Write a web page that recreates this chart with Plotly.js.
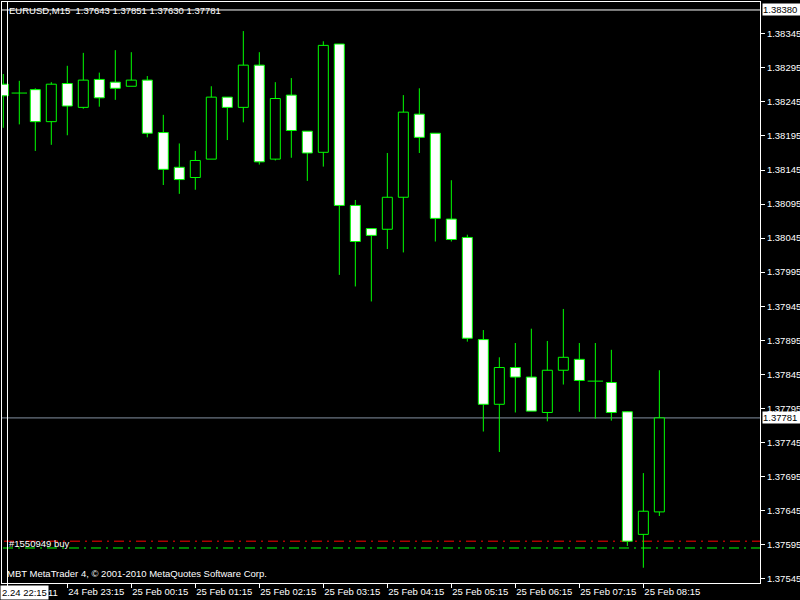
<!DOCTYPE html>
<html>
<head>
<meta charset="utf-8">
<script src="https://cdn.plot.ly/plotly-3.0.1.min.js"></script>
<style>
  html, body { margin: 0; padding: 0; background: #000; }
  #chart { width: 800px; height: 600px; }
</style>
</head>
<body>
<div id="chart"></div>
<script>
// ---- data (EURUSD, M15) ----
const times = [
  "24 Feb 22:15","24 Feb 22:30","24 Feb 22:45","24 Feb 23:00","24 Feb 23:15","24 Feb 23:30","24 Feb 23:45",
  "25 Feb 00:00","25 Feb 00:15","25 Feb 00:30","25 Feb 00:45","25 Feb 01:00","25 Feb 01:15","25 Feb 01:30",
  "25 Feb 01:45","25 Feb 02:00","25 Feb 02:15","25 Feb 02:30","25 Feb 02:45","25 Feb 03:00","25 Feb 03:15",
  "25 Feb 03:30","25 Feb 03:45","25 Feb 04:00","25 Feb 04:15","25 Feb 04:30","25 Feb 04:45","25 Feb 05:00",
  "25 Feb 05:15","25 Feb 05:30","25 Feb 05:45","25 Feb 06:00","25 Feb 06:15","25 Feb 06:30","25 Feb 06:45",
  "25 Feb 07:00","25 Feb 07:15","25 Feb 07:30","25 Feb 07:45","25 Feb 08:00","25 Feb 08:15","25 Feb 08:30"
];
const opens = [
  1.38271,1.38258,1.38263,1.38216,1.38272,1.38237,1.38278,1.38274,1.38268,1.38277,
  1.38200,1.38149,1.38134,1.38161,1.38252,1.38237,1.38299,1.38161,1.38255,1.38202,
  1.38171,1.38330,1.38093,1.38059,1.38058,1.38105,1.38227,1.38199,1.38073,1.38046,
  1.37896,1.37801,1.37855,1.37841,1.37789,1.37851,1.37867,1.37835,1.37833,1.37790,
  1.37610,1.37643
];
const highs = [
  1.38286,1.38276,1.38265,1.38274,1.38298,1.38317,1.38288,1.38321,1.38318,1.38283,
  1.38226,1.38184,1.38173,1.38268,1.38252,1.38349,1.38318,1.38274,1.38280,1.38202,
  1.38334,1.38330,1.38101,1.38059,1.38170,1.38255,1.38265,1.38199,1.38130,1.38050,
  1.37910,1.37870,1.37891,1.37912,1.37894,1.37941,1.37891,1.37891,1.37881,1.37791,
  1.37700,1.37851
];
const lows = [
  1.38207,1.38212,1.38173,1.38182,1.38196,1.38235,1.38238,1.38248,1.38268,1.38193,
  1.38123,1.38110,1.38116,1.38161,1.38189,1.38215,1.38153,1.38159,1.38163,1.38129,
  1.38150,1.37991,1.37974,1.37952,1.38029,1.38024,1.38170,1.38040,1.38040,1.37893,
  1.37761,1.37731,1.37789,1.37791,1.37776,1.37830,1.37790,1.37780,1.37777,1.37593,
  1.37561,1.37637
];
const closes = [
  1.38254,1.38258,1.38216,1.38271,1.38239,1.38277,1.38251,1.38265,1.38277,1.38199,
  1.38146,1.38131,1.38159,1.38252,1.38237,1.38299,1.38157,1.38250,1.38203,1.38170,
  1.38328,1.38093,1.38040,1.38049,1.38105,1.38230,1.38193,1.38074,1.38043,1.37898,
  1.37801,1.37855,1.37841,1.37791,1.37851,1.37870,1.37836,1.37835,1.37789,1.37600,
  1.37644,1.37781
];
const tickLabels = [
  "24 Feb 23:15","25 Feb 00:15","25 Feb 01:15","25 Feb 02:15","25 Feb 03:15",
  "25 Feb 04:15","25 Feb 05:15","25 Feb 06:15","25 Feb 07:15","25 Feb 08:15"
];
const headerText = "EURUSD,M15  1.37643 1.37851 1.37630 1.37781";
const copyrightText = "MBT MetaTrader 4, \u00A9 2001-2010 MetaQuotes Software Corp.";
const orderText = "#1550949 buy";
const crossTimeText = "2.24 22:15";
const crossPrice = 1.38380;
const slLevel = 1.37600;
const openLevel = 1.37590;

// ---- build traces ----
const GREEN = "#00ff00";
const bodyBase = [], bodyLen = [], bodyFill = [], bodyX = [];
const dojiX = [], dojiY = [];
const wickX = [], wickY = [];
for (let i = 0; i < times.length; i++) {
  const o = opens[i], c = closes[i], h = highs[i], l = lows[i];
  const top = Math.max(o, c), bot = Math.min(o, c);
  if (Math.abs(c - o) < 1e-9) {
    dojiX.push(times[i]); dojiY.push(o);
  } else {
    bodyX.push(times[i]); bodyBase.push(bot); bodyLen.push(top - bot);
    bodyFill.push(c > o ? "#000000" : "#ffffff");
  }
  if (h > top) { wickX.push(times[i], times[i], null); wickY.push(top, h, null); }
  if (l < bot) { wickX.push(times[i], times[i], null); wickY.push(l, bot, null); }
}

const traces = [
  {
    type: "bar", x: bodyX, y: bodyLen, base: bodyBase, width: 0.625,
    marker: { color: bodyFill, line: { color: GREEN, width: 1 } },
    hoverinfo: "skip", showlegend: false
  },
  {
    type: "scatter", mode: "lines", x: wickX, y: wickY,
    line: { color: GREEN, width: 1 }, hoverinfo: "skip", showlegend: false
  },
  {
    type: "scatter", mode: "markers", x: dojiX, y: dojiY,
    marker: { symbol: "line-ew", size: 11, line: { color: GREEN, width: 1 } },
    hoverinfo: "skip", showlegend: false
  }
];

// pixel -> paper helpers (plot area: x 2..760, y 2..583)
const L = 2, R = 760, T = 2, B = 583;
const px = x => (x - L) / (R - L);
const py = y => (B - y) / (B - T);

const FONT = "Liberation Sans, Arial, sans-serif";
const fs = 9.5;
const lastClose = closes[closes.length - 1];

const layout = {
  width: 800, height: 600,
  margin: { l: L, r: 800 - R, t: T, b: 600 - B, pad: 0 },
  paper_bgcolor: "#000000", plot_bgcolor: "#000000",
  showlegend: false, bargap: 0,
  font: { family: FONT, size: fs, color: "#ffffff" },
  xaxis: {
    type: "category", categoryorder: "array", categoryarray: times,
    range: [-0.081, 47.29], fixedrange: true,
    showgrid: false, zeroline: false,
    showline: true, linecolor: "#ffffff", linewidth: 1, mirror: true,
    ticks: "outside", ticklen: 4, tickcolor: "#ffffff", tickwidth: 1,
    tickmode: "array", tickvals: tickLabels, ticktext: tickLabels,
    ticklabelposition: "outside right", tickangle: 0,
    tickfont: { family: FONT, size: fs, color: "#ffffff" }
  },
  yaxis: {
    side: "right", range: [1.375386, 1.383917], fixedrange: true,
    showgrid: false, zeroline: false,
    showline: true, linecolor: "#ffffff", linewidth: 1, mirror: true,
    ticks: "outside", ticklen: 4, tickcolor: "#ffffff", tickwidth: 1,
    tickmode: "linear", tick0: 1.37545, dtick: 0.0005, tickformat: ".5f",
    tickfont: { family: FONT, size: fs, color: "#ffffff" }
  },
  shapes: [
    { type: "line", layer: "below", xref: "paper", yref: "y", x0: 0, x1: 1, y0: lastClose, y1: lastClose,
      line: { color: "#8591a3", width: 1 } },
    { type: "line", layer: "below", xref: "paper", yref: "y", x0: px(4), x1: 1, y0: slLevel, y1: slLevel,
      line: { color: "#ff0000", width: 1, dash: "10px,5px,2px,5px" } },
    { type: "line", layer: "below", xref: "paper", yref: "y", x0: px(3), x1: 1, y0: openLevel, y1: openLevel,
      line: { color: "#00ff00", width: 1, dash: "10px,5px,2px,5px" } },
    { type: "line", layer: "above", xref: "paper", yref: "y", x0: 0, x1: 1, y0: crossPrice, y1: crossPrice,
      line: { color: "#ffffff", width: 1 } },
    { type: "line", layer: "above", xref: "paper", yref: "paper", x0: px(7.5), x1: px(7.5), y0: py(587), y1: 1,
      line: { color: "#ffffff", width: 1 } }
  ],
  annotations: [
    { xref: "paper", yref: "paper", x: px(7), y: py(10), xanchor: "left", yanchor: "middle",
      text: headerText, showarrow: false, font: { family: FONT, size: fs, color: "#ffffff" } },
    { xref: "paper", yref: "paper", x: px(5), y: py(573.5), xanchor: "left", yanchor: "middle",
      text: copyrightText, showarrow: false, font: { family: FONT, size: fs, color: "#ffffff" } },
    { xref: "paper", yref: "paper", x: px(7), y: py(543), xanchor: "left", yanchor: "middle",
      text: orderText, showarrow: false, font: { family: FONT, size: fs, color: "#ffffff" } },
    { xref: "paper", yref: "paper", x: px(46), y: py(592), xanchor: "left", yanchor: "middle",
      text: "11", showarrow: false, font: { family: FONT, size: fs, color: "#ffffff" } },
    { xref: "paper", yref: "paper", x: px(0), y: py(592), xanchor: "left", yanchor: "middle",
      text: crossTimeText, showarrow: false, bgcolor: "#ffffff", borderpad: 1,
      font: { family: FONT, size: fs, color: "#000000" } },
    { xref: "paper", yref: "y", x: px(762), y: crossPrice, xanchor: "left", yanchor: "middle",
      text: crossPrice.toFixed(5) + " ", showarrow: false, bgcolor: "#ffffff", borderpad: 0,
      font: { family: FONT, size: fs, color: "#000000" } },
    { xref: "paper", yref: "y", x: px(762), y: lastClose, xanchor: "left", yanchor: "middle",
      text: lastClose.toFixed(5) + " ", showarrow: false, bgcolor: "#ffffff", borderpad: 0,
      font: { family: FONT, size: fs, color: "#000000" } }
  ]
};

Plotly.newPlot("chart", traces, layout, { staticPlot: true, displayModeBar: false });
</script>
</body>
</html>
